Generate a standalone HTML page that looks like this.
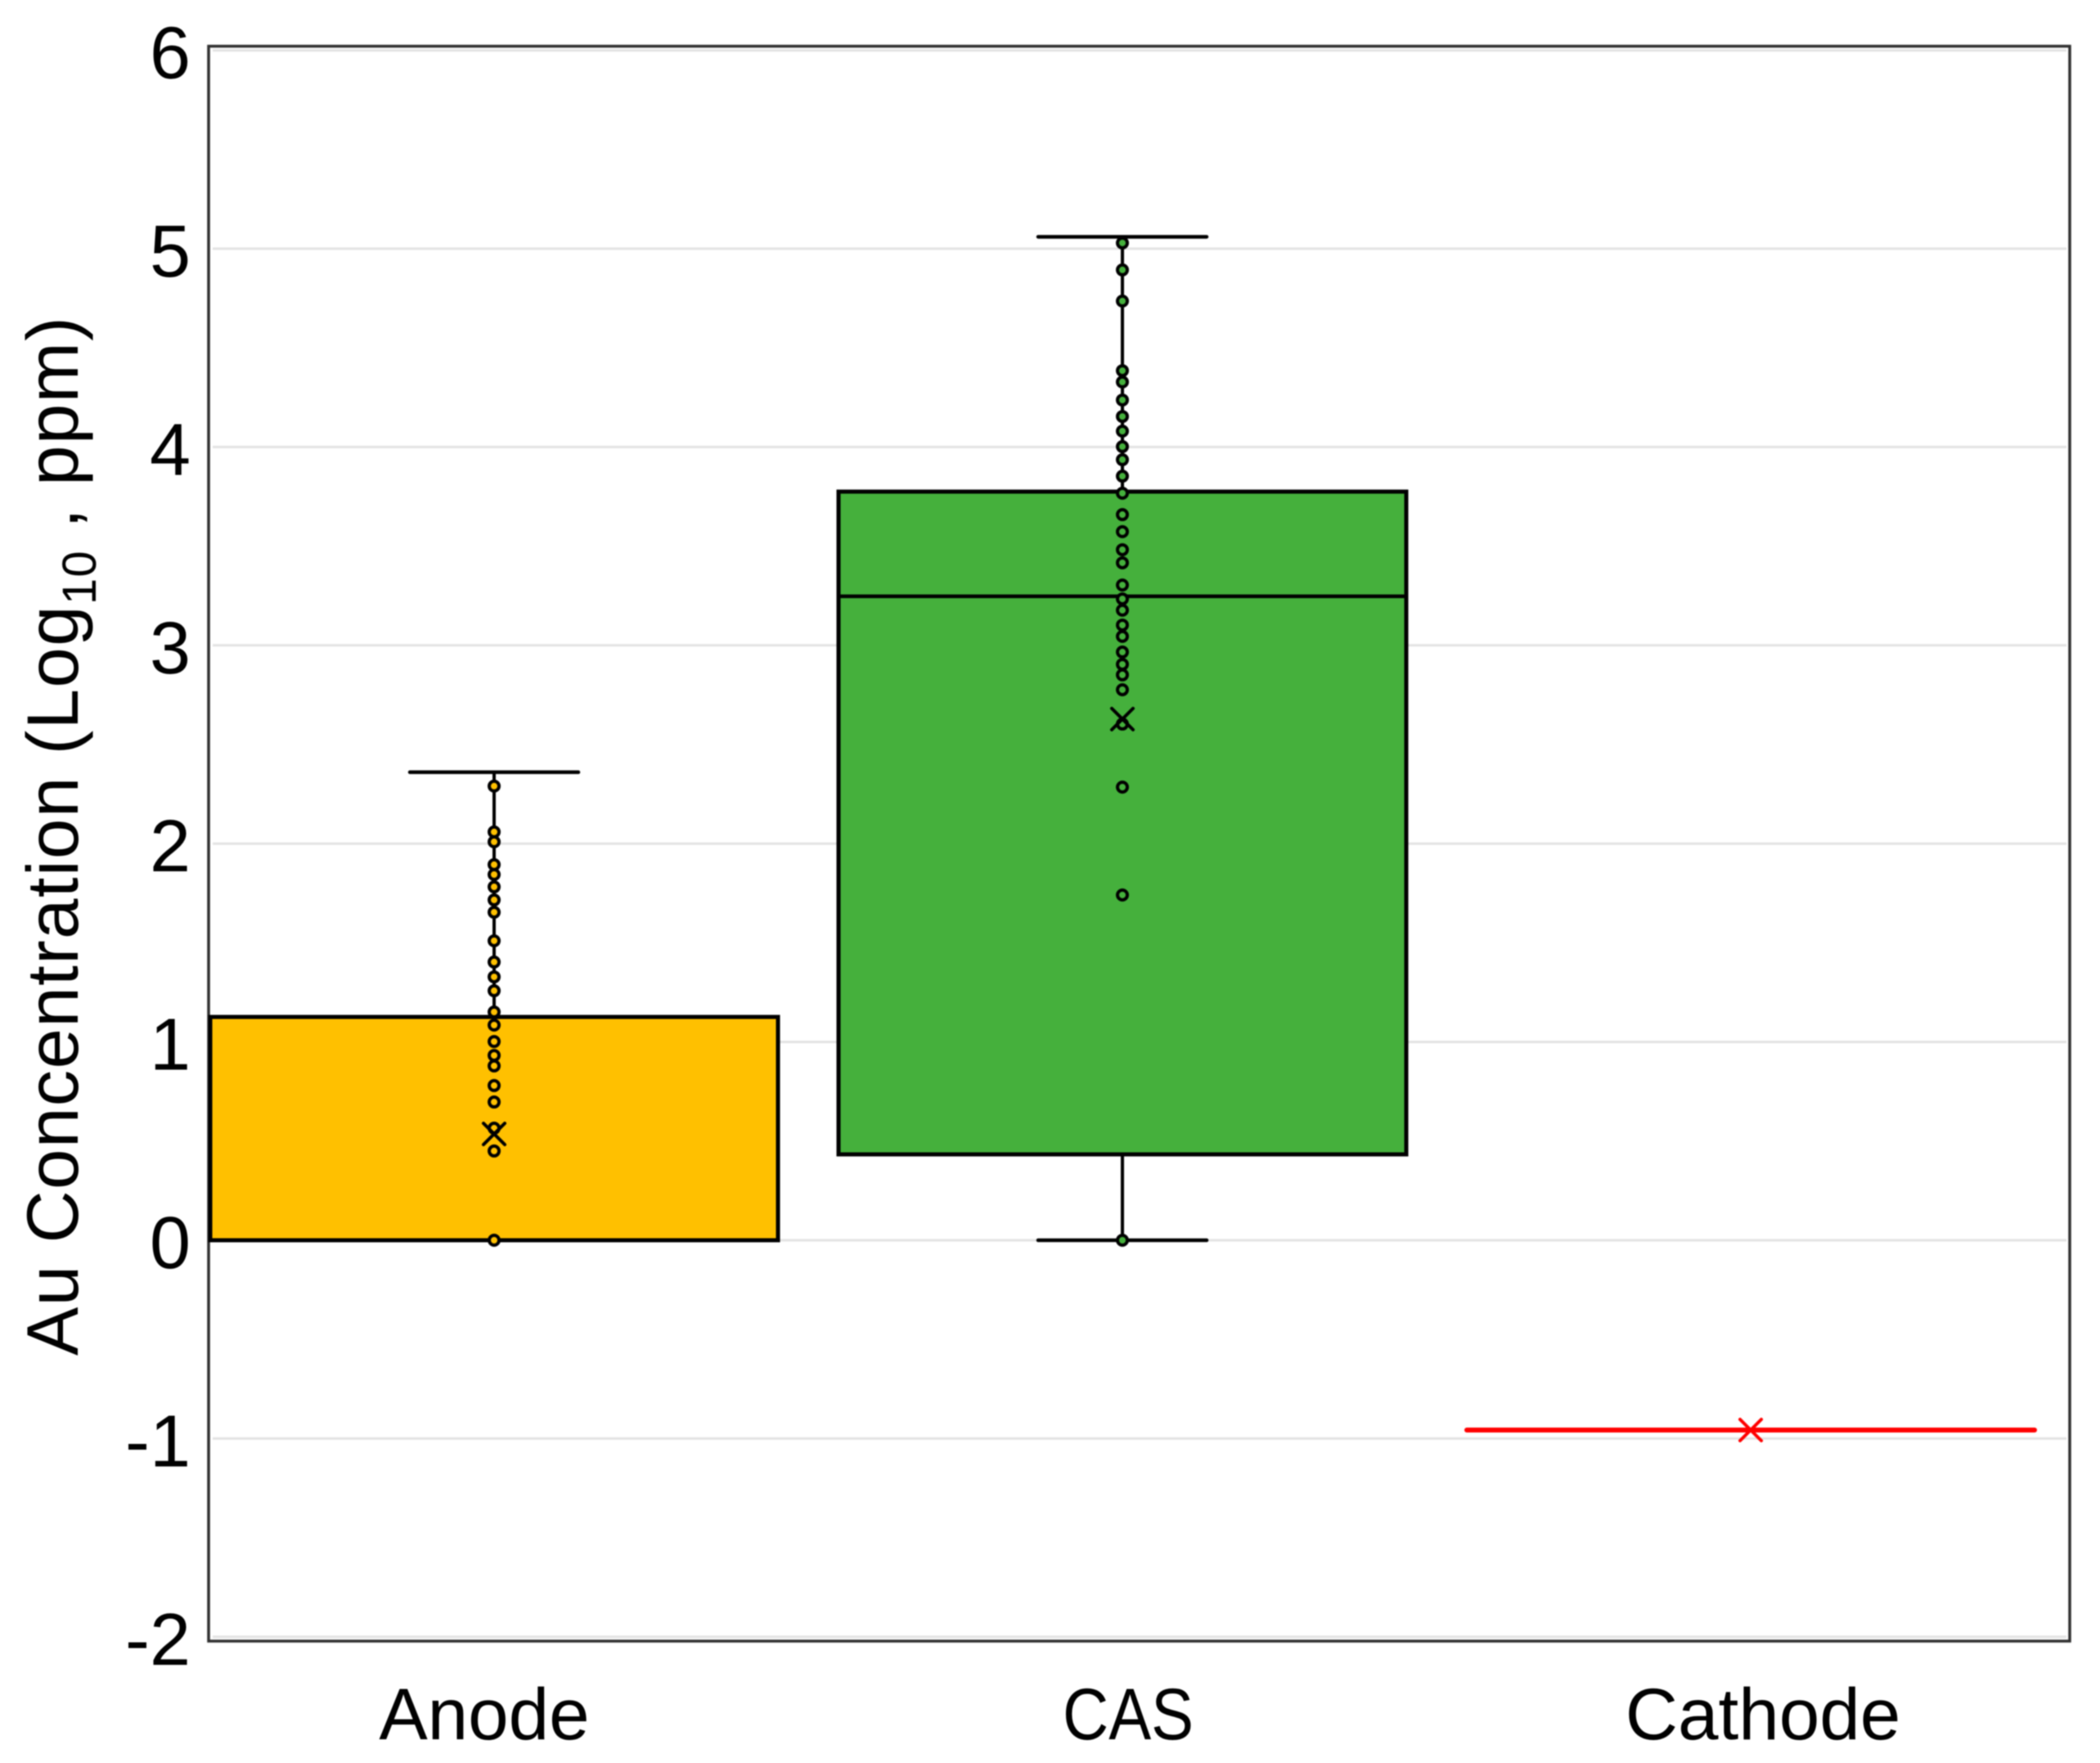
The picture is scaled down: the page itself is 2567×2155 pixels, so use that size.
<!DOCTYPE html>
<html lang="en">
<head>
<meta charset="utf-8">
<title>Au Concentration Box Plot</title>
<style>
html,body{margin:0;padding:0;background:#fff;}
svg{display:block;font-family:"Liberation Sans",sans-serif;filter:blur(0.7px);}
</style>
</head>
<body>
<svg id="chart" xmlns="http://www.w3.org/2000/svg" width="2567" height="2155" viewBox="0 0 2567 2155">
  <rect x="0" y="0" width="2567" height="2155" fill="#ffffff"/>
  <g id="grid"></g>
  <rect x="255" y="56.5" width="2275" height="1949.5" fill="none" stroke="#303030" stroke-width="3.5"/>
  <g id="series"></g>
  <g id="yticks"></g>
  <g id="xticks"></g>
  <text transform="translate(95,1657) rotate(-90)" font-size="89" letter-spacing="1.3" fill="#000">Au Concentration (Log<tspan font-size="58" dy="22">10</tspan><tspan dy="-22"> , ppm)</tspan></text>
</svg>
<script>
const categories = ['Anode', 'CAS', 'Cathode'];
const yTicks = [-2, -1, 0, 1, 2, 3, 4, 5, 6];
const q1Values = [0, 0.433, -0.957];
const medianValues = [0, 3.247, -0.957];
const q3Values = [1.126, 3.775, -0.957];
const whiskerLow = [0, 0, -0.957];
const whiskerHigh = [2.36, 5.06, -0.957];
const meanValues = [0.536, 2.628, -0.957];
const anodePoints = [2.29, 2.059, 2.009, 1.894, 1.844, 1.782, 1.716, 1.654, 1.51, 1.403, 1.328, 1.258, 1.151, 1.085, 1.002, 0.932, 0.879, 0.78, 0.697, 0.565, 0.45, 0];
const casPoints = [5.029, 4.893, 4.736, 4.385, 4.328, 4.237, 4.154, 4.08, 4.002, 3.936, 3.853, 3.767, 3.659, 3.573, 3.482, 3.416, 3.304, 3.234, 3.177, 3.102, 3.045, 2.966, 2.904, 2.851, 2.776, 2.603, 2.285, 1.741, 0];
const cathodePoints = [];
const seriesPoints = [anodePoints, casPoints, cathodePoints];
const seriesFill = ['#ffc000', '#45b03c', 'none'];
const seriesLine = ['#000000', '#000000', '#ff0000'];

const NS = 'http://www.w3.org/2000/svg';
const yScale = v => 1516 - 242.4 * v;
const xScale = i => 604 + 768 * i;
const labelX = i => 592 + 781.5 * i + (i === 1 ? 5.5 : 0);
const BOX_HALF = 347;
const CAP_HALF = 103;

function make(tag, attrs, parent) {
  const el = document.createElementNS(NS, tag);
  for (const k in attrs) el.setAttribute(k, attrs[k]);
  parent.appendChild(el);
  return el;
}

const gridG = document.getElementById('grid');
const yTickG = document.getElementById('yticks');
const xTickG = document.getElementById('xticks');
const seriesG = document.getElementById('series');

yTicks.forEach(t => {
  const line = make('line', {x1: 260, x2: 2526, y1: yScale(t), y2: yScale(t), stroke: '#e3e3e3', 'stroke-width': 3}, gridG);
  
  
  const label = make('text', {x: 233, y: yScale(t) + 34, 'text-anchor': 'end', 'font-size': 90, fill: '#000'}, yTickG);
  
  
  label.textContent = String(t);
});

categories.forEach((c, i) => {
  const label = make('text', {x: labelX(i), y: 2126, 'text-anchor': 'middle', 'font-size': 89, fill: '#000'}, xTickG);
  
  
  label.textContent = c;
  if (c === 'CAS') {
    label.setAttribute('textLength', '160');
    label.setAttribute('lengthAdjust', 'spacingAndGlyphs');
  }

  const cx = xScale(i);
  const stroke = seriesLine[i];
  const g = make('g', {}, seriesG);
  
  

  const upper = make('line', {x1: cx, x2: cx, y1: yScale(q3Values[i]), y2: yScale(whiskerHigh[i]), stroke: stroke, 'stroke-width': 4}, g);
  
  
  const lower = make('line', {x1: cx, x2: cx, y1: yScale(q1Values[i]), y2: yScale(whiskerLow[i]), stroke: stroke, 'stroke-width': 4}, g);
  
  
  if (i < 2) {
    const capHigh = make('line', {x1: cx - CAP_HALF, x2: cx + CAP_HALF, y1: yScale(whiskerHigh[i]), y2: yScale(whiskerHigh[i]), stroke: stroke, 'stroke-width': 4.5, 'stroke-linecap': 'round'}, g);
    
    
    const capLow = make('line', {x1: cx - CAP_HALF, x2: cx + CAP_HALF, y1: yScale(whiskerLow[i]), y2: yScale(whiskerLow[i]), stroke: stroke, 'stroke-width': 4.5, 'stroke-linecap': 'round'}, g);
    
    
    const box = make('rect', {x: cx - BOX_HALF, y: yScale(q3Values[i]), width: 2 * BOX_HALF, height: yScale(q1Values[i]) - yScale(q3Values[i]), fill: seriesFill[i], stroke: stroke, 'stroke-width': 5}, g);
    
    
    const med = make('line', {x1: cx - BOX_HALF, x2: cx + BOX_HALF, y1: yScale(medianValues[i]), y2: yScale(medianValues[i]), stroke: stroke, 'stroke-width': 4.5}, g);
    
    
  } else {
    const flat = make('line', {x1: cx - BOX_HALF, x2: cx + BOX_HALF, y1: yScale(medianValues[i]), y2: yScale(medianValues[i]), stroke: stroke, 'stroke-width': 6, 'stroke-linecap': 'round'}, g);
    
    
  }

  seriesPoints[i].forEach(v => {
    const dot = make('circle', {cx: cx, cy: yScale(v), r: 6, fill: seriesFill[i], stroke: '#000', 'stroke-width': 4}, g);
    
    
  });

  const m = yScale(meanValues[i]);
  const s = 13;
  const mean = make('path', {d: `M${cx - s} ${m - s}L${cx + s} ${m + s}M${cx + s} ${m - s}L${cx - s} ${m + s}`, fill: 'none', stroke: stroke, 'stroke-width': 4, 'stroke-linecap': 'round'}, g);
  
  
});
</script>
</body>
</html>
